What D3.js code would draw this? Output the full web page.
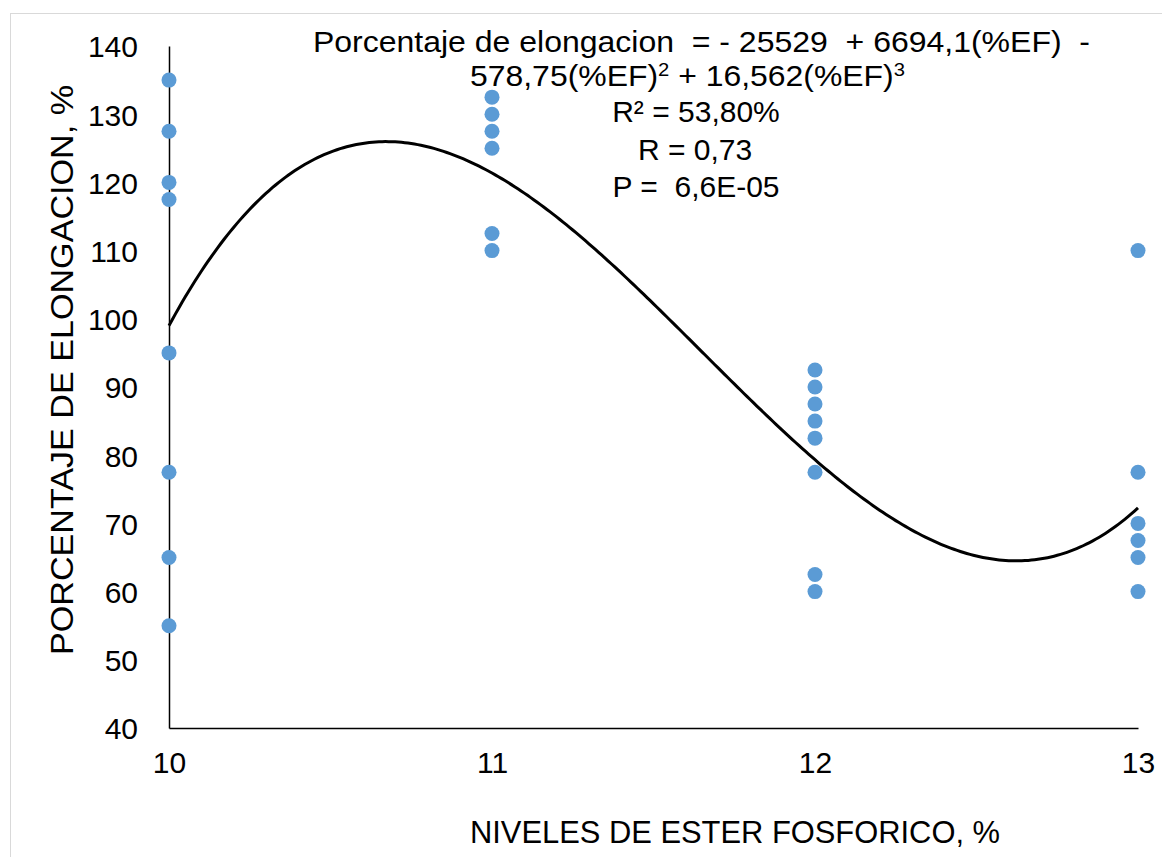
<!DOCTYPE html>
<html>
<head>
<meta charset="utf-8">
<script src="https://cdn.jsdelivr.net/npm/d3@7"></script>
<style>
  body { margin: 0; background: #fff; }
  text { font-family: "Liberation Sans", Arial, sans-serif; white-space: pre; }
</style>
</head>
<body>
<script>
// data
var niveles = [10, 10, 10, 10, 10, 10, 10, 10,
               11, 11, 11, 11, 11, 11,
               12, 12, 12, 12, 12, 12, 12, 12,
               13, 13, 13, 13, 13, 13];
var elongacion = [135, 127.5, 120, 117.5, 95, 77.5, 65, 55,
                  132.5, 130, 127.5, 125, 112.5, 110,
                  92.5, 90, 87.5, 85, 82.5, 77.5, 62.5, 60,
                  110, 77.5, 70, 67.5, 65, 60];
// trendline coefficients as printed on the chart (c0 + c1 x + c2 x^2 + c3 x^3)
var coef = [-25529, 6694.1, -578.75, 16.562];
var xTicks = [10, 11, 12, 13];
var yTicks = [40, 50, 60, 70, 80, 90, 100, 110, 120, 130, 140];

var width = 1162, height = 857;

var svg = d3.select("body").append("svg")
    .attr("width", width)
    .attr("height", height);

// outer frame
svg.append("rect")
    .attr("x", 10.5).attr("y", 13.5)
    .attr("width", width).attr("height", height)
    .attr("fill", "none")
    .attr("stroke", "#d9d9d9");

var x = d3.scaleLinear().domain([10, 13]).range([169, 1138]);
var y = d3.scaleLinear().domain([40, 140]).range([728, 46]);

// y axis
var yAxis = svg.append("g")
    .attr("transform", "translate(169,0)")
    .call(d3.axisLeft(y).tickValues(yTicks).tickSize(0).tickPadding(31));
yAxis.select(".domain").attr("stroke", "#000").attr("stroke-width", 1.5);
yAxis.selectAll("text").attr("font-size", 30).attr("fill", "#000").attr("dy", "0.36em")
    .style("font-family", "Liberation Sans, Arial, sans-serif");

// x axis
var xAxis = svg.append("g")
    .attr("transform", "translate(0,728)")
    .call(d3.axisBottom(x).tickValues(xTicks).tickSize(0).tickPadding(24).tickFormat(d3.format("d")));
xAxis.select(".domain").attr("stroke", "#000").attr("stroke-width", 1.5);
xAxis.selectAll("text").attr("font-size", 30).attr("fill", "#000")
    .style("font-family", "Liberation Sans, Arial, sans-serif");

// trendline
function poly(v) {
  return coef[0] + coef[1]*v + coef[2]*v*v + coef[3]*v*v*v;
}
var curveX = d3.range(10, 13.0001, 0.01);
var line = d3.line()
    .x(function(d) { return x(d); })
    .y(function(d) { return y(poly(d)); });

// points
svg.append("g").selectAll("circle")
    .data(niveles)
    .enter().append("circle")
    .attr("cx", function(d) { return x(d); })
    .attr("cy", function(d, i) { return y(elongacion[i]); })
    .attr("r", 7.5)
    .attr("fill", "#5b9bd5");

svg.append("path")
    .datum(curveX)
    .attr("d", line)
    .attr("fill", "none")
    .attr("stroke", "#000")
    .attr("stroke-width", 3);

// equation text
var eq = svg.append("g").attr("font-size", 30).attr("fill", "#000");
eq.append("text").attr("x", 313).attr("y", 52)
    .attr("textLength", 777).attr("lengthAdjust", "spacingAndGlyphs")
    .text("Porcentaje de elongacion  = - 25529  + 6694,1(%EF)  -");
var l2 = eq.append("text").attr("x", 470).attr("y", 86)
    .attr("textLength", 435).attr("lengthAdjust", "spacingAndGlyphs");
l2.append("tspan").text("578,75(%EF)");
l2.append("tspan").attr("font-size", 19).attr("dy", -10).text("2");
l2.append("tspan").attr("dy", 10).text(" + 16,562(%EF)");
l2.append("tspan").attr("font-size", 19).attr("dy", -10).text("3");
eq.append("text").attr("x", 696).attr("y", 122).attr("text-anchor", "middle").text("R² = 53,80%");
eq.append("text").attr("x", 695).attr("y", 160).attr("text-anchor", "middle").text("R = 0,73");
eq.append("text").attr("x", 696).attr("y", 197).attr("text-anchor", "middle").text("P =  6,6E-05");

// axis titles
svg.append("text")
    .attr("transform", "translate(73,370) rotate(-90)")
    .attr("text-anchor", "middle")
    .attr("font-size", 32)
    .attr("textLength", 570).attr("lengthAdjust", "spacingAndGlyphs")
    .text("PORCENTAJE DE ELONGACION, %");

svg.append("text")
    .attr("x", 735).attr("y", 843)
    .attr("text-anchor", "middle")
    .attr("font-size", 31)
    .attr("textLength", 530).attr("lengthAdjust", "spacingAndGlyphs")
    .text("NIVELES DE ESTER FOSFORICO, %");
</script>
</body>
</html>
